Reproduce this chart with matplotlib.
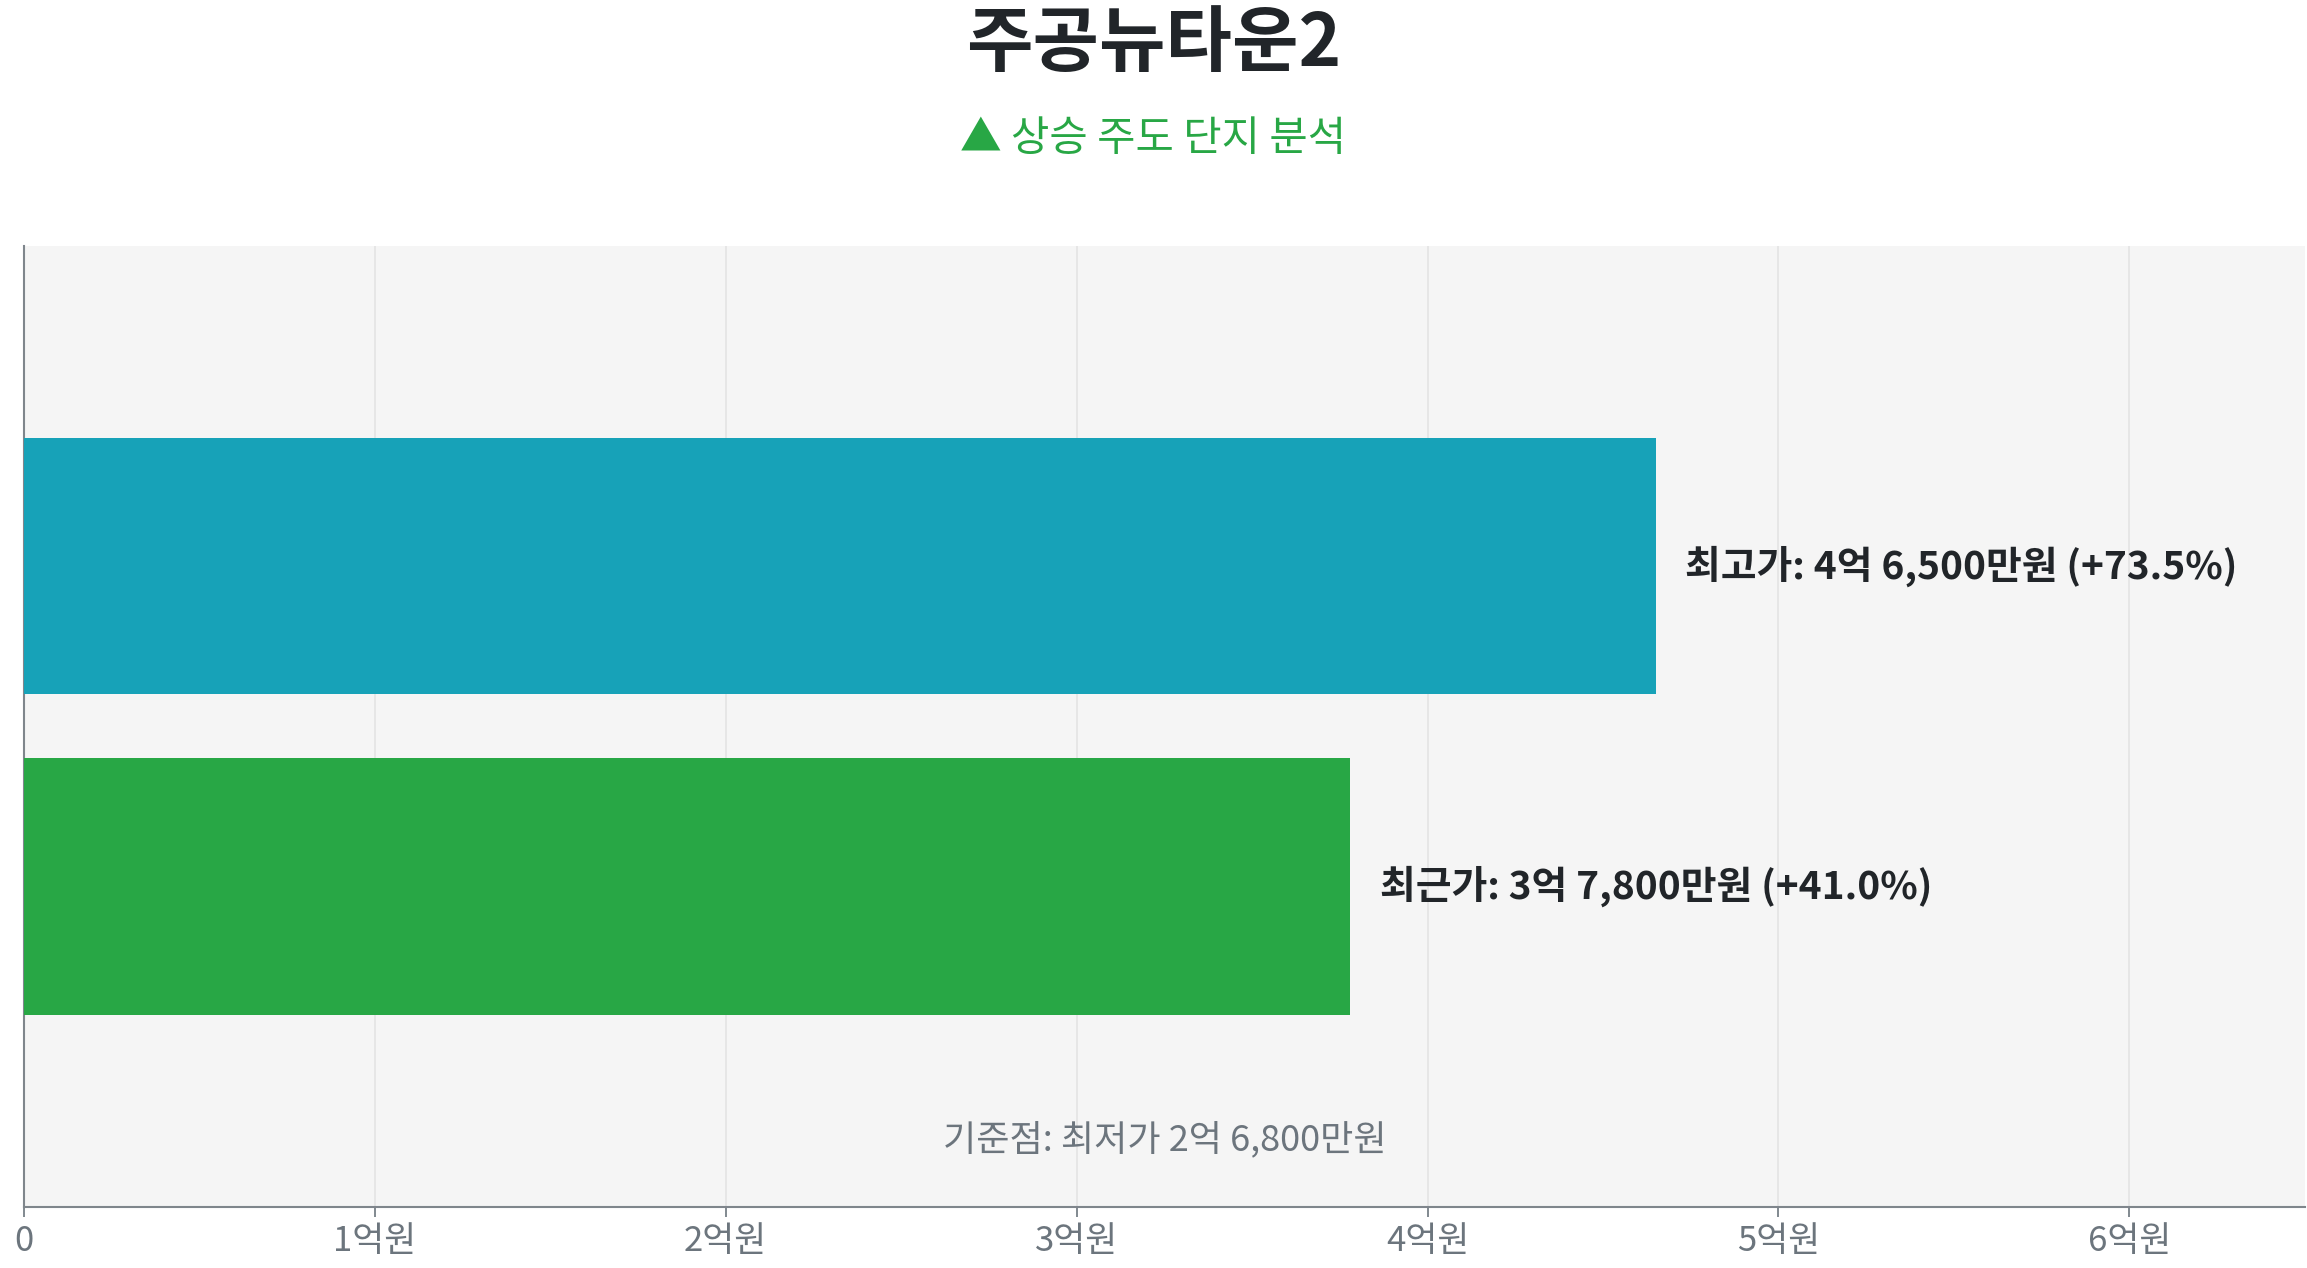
import matplotlib
matplotlib.use("Agg")
import matplotlib.pyplot as plt
from matplotlib.ticker import FuncFormatter

plt.rcParams['font.family'] = ['Noto Sans CJK KR', 'DejaVu Sans']

# prices in 억원
labels = ["최고가", "최근가"]
prices = [4.65, 3.78]
pct = [73.5, 41.0]
price_text = ["4억 6,500만원", "3억 7,800만원"]
colors = ["#17a2b8", "#28a745"]
low_price = 2.68
low_text = "2억 6,800만원"
ticks = [0, 1, 2, 3, 4, 5, 6]

fig = plt.figure(figsize=(23.07, 12.68), dpi=100)
ax = fig.add_axes([0.0104, 0.0481, 0.9886, 0.758])
ax.set_facecolor("#f5f5f5")

y = list(range(len(prices)))
ax.barh(y, prices, height=0.8, color=colors, zorder=3)

for i in y:
    ax.text(prices[i] + 0.085, i, f"{labels[i]}: {price_text[i]} (+{pct[i]:.1f}%)",
            va="center", ha="left", fontsize=28, fontweight="bold", color="#212529", zorder=4)

ax.text(0.5, 0.07, f"기준점: 최저가 {low_text}", transform=ax.transAxes,
        ha="center", va="center", fontsize=26, color="#6c757d")

ax.set_xlim(0, 6.5)
ax.set_ylim(2, -1)
ax.set_xticks(ticks)
ax.xaxis.set_major_formatter(FuncFormatter(lambda v, p: "0" if v == 0 else f"{int(v)}억원"))
ax.set_yticks([])
ax.grid(axis="x", color="#e3e3e3", linewidth=1.2, zorder=0)
ax.tick_params(axis="x", labelsize=25, colors="#6c757d", length=7, width=1.2, pad=5)
for s in ["top", "right"]:
    ax.spines[s].set_visible(False)
for s in ["left", "bottom"]:
    ax.spines[s].set_color("#7f868c")
    ax.spines[s].set_linewidth(1.5)

fig.text(0.5, 0.965, "주공뉴타운2", ha="center", va="center", fontsize=52,
         fontweight="bold", color="#212529")
fig.text(0.5, 0.89, "▲ 상승 주도 단지 분석", ha="center", va="center", fontsize=30,
         color="#28a745")

fig.savefig("out.png", dpi=100)
